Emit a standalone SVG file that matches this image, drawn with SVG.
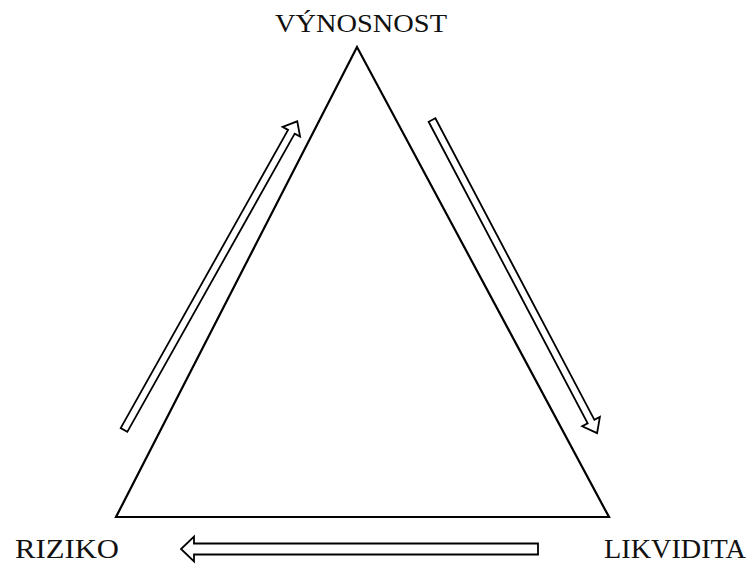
<svg xmlns="http://www.w3.org/2000/svg" width="750" height="565" viewBox="0 0 750 565">
<style>
.lbl{font-family:"Liberation Serif","Times New Roman",serif;fill:#111;}
.edge{fill:none;stroke:#000;stroke-width:2.2;stroke-linejoin:miter;}
.arr{fill:#fff;stroke:#000;stroke-width:1.8;stroke-linejoin:miter;}
</style>
<rect width="750" height="565" fill="#fff"/>
<g id="triangle">
<polygon class="edge" points="357,47 116,517 609,517"/>
</g>
<g id="node-vynosnost">
<text class="lbl" x="275" y="32" font-size="25" textLength="172" lengthAdjust="spacingAndGlyphs">VÝNOSNOST</text>
</g>
<g id="node-riziko">
<text class="lbl" x="15" y="558" font-size="27" textLength="104" lengthAdjust="spacingAndGlyphs">RIZIKO</text>
</g>
<g id="node-likvidita">
<text class="lbl" x="604" y="558" font-size="27" textLength="142" lengthAdjust="spacingAndGlyphs">LIKVIDITA</text>
</g>
<g id="connectors">
<polygon class="arr" transform="translate(124,430) rotate(-60.7)" points="0,-3.8 342,-3.8 342,-10 354,0 342,10 342,3.8 0,3.8"/>
<polygon class="arr" transform="translate(432,120) rotate(62.2)" points="0,-3.8 341,-3.8 341,-10 354,0 341,10 341,3.8 0,3.8"/>
<polygon class="arr" transform="translate(538,549) rotate(180)" points="0,-5.5 344,-5.5 344,-12.5 357,0 344,12.5 344,5.5 0,5.5"/>
</g>
</svg>
